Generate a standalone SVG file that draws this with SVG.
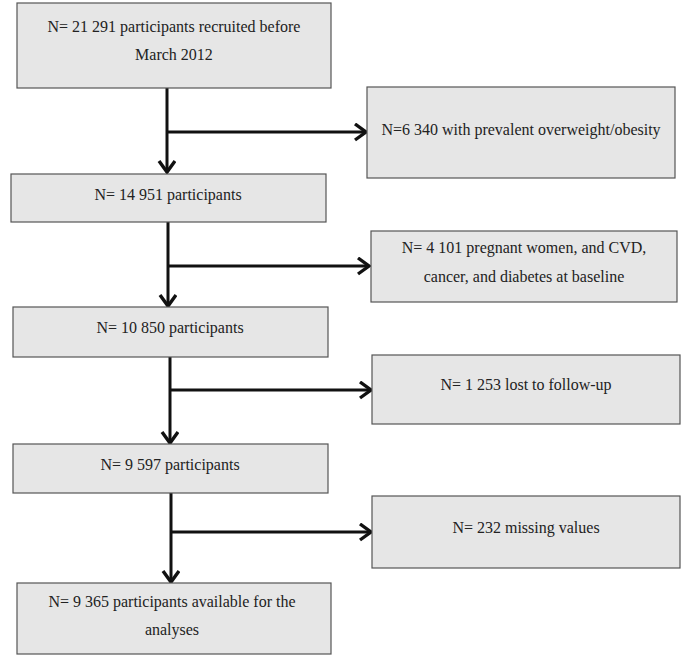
<svg xmlns="http://www.w3.org/2000/svg" width="700" height="658" viewBox="0 0 700 658">
<defs>
<style>
.box{fill:#e6e6e6;stroke:#555;stroke-width:1.2}
.t{font-family:"Liberation Serif","Times New Roman",serif;font-size:16px;fill:#222;text-anchor:middle}
.c{stroke:#111;stroke-width:3;fill:none}
</style>
<marker id="ah" markerUnits="userSpaceOnUse" markerWidth="18" markerHeight="20" refX="13" refY="9" orient="auto">
<path d="M2,1 L13,9 L2,17" fill="none" stroke="#111" stroke-width="3.4"/>
</marker>
</defs>
<rect width="700" height="658" fill="#fff"/>
<g id="connectors">
<path class="c" d="M167,88 V172" marker-end="url(#ah)"/>
<path class="c" d="M167,132 H366" marker-end="url(#ah)"/>
<path class="c" d="M168,222 V306" marker-end="url(#ah)"/>
<path class="c" d="M168,266 H369" marker-end="url(#ah)"/>
<path class="c" d="M170,357 V443" marker-end="url(#ah)"/>
<path class="c" d="M170,390 H371" marker-end="url(#ah)"/>
<path class="c" d="M171,493 V582" marker-end="url(#ah)"/>
<path class="c" d="M171,532 H371" marker-end="url(#ah)"/>
</g>
<g id="n1"><rect class="box" x="17" y="3" width="314" height="85"/><text class="t" x="174" y="32">N= 21 291 participants recruited before</text><text class="t" x="174" y="60">March 2012</text></g>
<g id="n2"><rect class="box" x="11" y="174" width="315" height="48"/><text class="t" x="168" y="200">N= 14 951 participants</text></g>
<g id="n3"><rect class="box" x="13" y="307" width="315" height="50"/><text class="t" x="170" y="333">N= 10 850 participants</text></g>
<g id="n4"><rect class="box" x="13" y="444" width="315" height="49"/><text class="t" x="170" y="470">N= 9 597 participants</text></g>
<g id="n5"><rect class="box" x="17" y="583" width="314" height="71"/><text class="t" x="172" y="607">N= 9 365 participants available for the</text><text class="t" x="172" y="635">analyses</text></g>
<g id="r1"><rect class="box" x="367" y="87" width="308" height="91"/><text class="t" x="521" y="135">N=6 340 with prevalent overweight/obesity</text></g>
<g id="r2"><rect class="box" x="371" y="231" width="306" height="71"/><text class="t" x="524" y="253">N= 4 101 pregnant women, and CVD,</text><text class="t" x="524" y="282">cancer, and diabetes at baseline</text></g>
<g id="r3"><rect class="box" x="372" y="355" width="308" height="69"/><text class="t" x="526" y="390">N= 1 253 lost to follow-up</text></g>
<g id="r4"><rect class="box" x="372" y="496" width="308" height="72"/><text class="t" x="526" y="533">N= 232 missing values</text></g>
</svg>
